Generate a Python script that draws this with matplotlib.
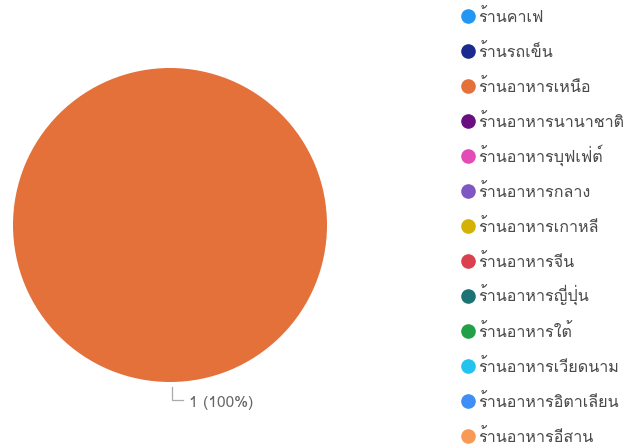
import numpy as np
import matplotlib
matplotlib.use("Agg")
import matplotlib.pyplot as plt
from matplotlib.lines import Line2D
from matplotlib import font_manager

# Shop types and counts
categories = ["ร้านคาเฟ", "ร้านรถเข็น", "ร้านอาหารเหนือ", "ร้านอาหารนานาชาติ",
              "ร้านอาหารบุฟเฟ่ต์", "ร้านอาหารกลาง", "ร้านอาหารเกาหลี",
              "ร้านอาหารจีน", "ร้านอาหารญี่ปุ่น", "ร้านอาหารใต้",
              "ร้านอาหารเวียดนาม", "ร้านอาหารอิตาเลียน", "ร้านอาหารอีสาน"]
counts = [0, 0, 1, 0, 0, 0, 0, 0, 0, 0, 0, 0, 0]
colors = ["#2196f3", "#1a2a8f", "#e4703a", "#6a0f82", "#e44bb5", "#7e57c2",
          "#d4b106", "#d9414f", "#1d7373", "#22a048", "#22c3ee", "#3d8ef5",
          "#f89a55"]

names = [f.name for f in font_manager.fontManager.ttflist]
thai = [n for n in set(names) if "Thai" in n or n in ("Loma", "Garuda", "Tlwg Typo", "Waree")]
plt.rcParams['font.family'] = thai + ['DejaVu Sans']

fig = plt.figure(figsize=(6.29, 4.48), dpi=100)
W, H = 629, 448
cx, cy, r = 170, 225, 157
ax = fig.add_axes([(cx - r) / W, (H - cy - r) / H, 2 * r / W, 2 * r / H])
wedges, _ = ax.pie(counts, colors=colors, startangle=90, counterclock=False,
                   radius=1, wedgeprops=dict(linewidth=0))
ax.set_xlim(-1, 1)
ax.set_ylim(-1, 1)
ax.axis("off")

total = sum(counts)
for w, c in zip(wedges, counts):
    if c == 0:
        continue
    ang = np.deg2rad((w.theta1 + w.theta2) / 2)
    x0, y0 = np.cos(ang), np.sin(ang)
    y1 = y0 - 0.115
    ax.plot([x0 + 0.013, x0 + 0.013, x0 + 0.085], [y0 - 0.03, y1, y1],
            color="#aaaaaa", lw=0.9, clip_on=False)
    ax.text(x0 + 0.12, y1 - 0.02, "{} ({:.0f}%)".format(c, 100 * c / total),
            fontsize=11.3, color="#666666", va="center", ha="left")

# legend drawn row by row so the spacing stays even
for i, (name, col) in enumerate(zip(categories, colors)):
    ypx = 16 + 35 * i
    fig.add_artist(Line2D([468 / W], [1 - ypx / H], marker="o", ls="",
                          color=col, markersize=9.5,
                          transform=fig.transFigure))
    fig.text(478 / W, 1 - (ypx + 6) / H, name, fontsize=11.6,
             color="#4a4a4a", va="baseline", ha="left")

fig.savefig("out.png", dpi=100)
